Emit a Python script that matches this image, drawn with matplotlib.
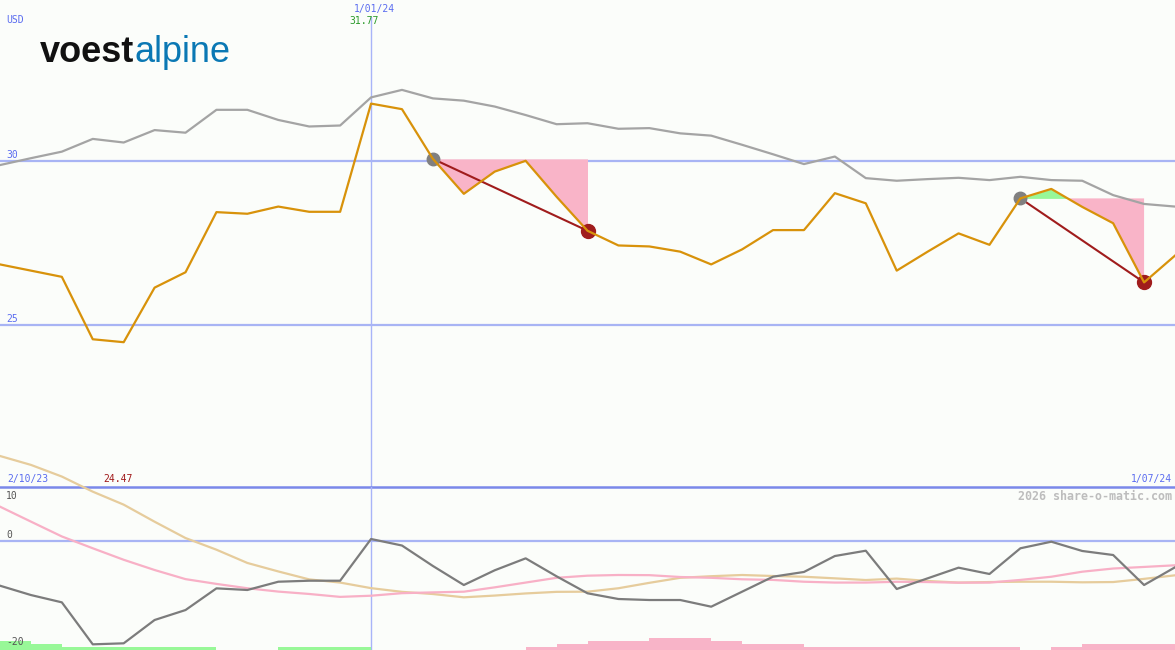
import matplotlib.pyplot as plt
import numpy as np

# weekly closes (USD), 2/10/23 .. 1/07/24
price = [26.85, 26.66, 26.47, 24.56, 24.47, 26.14, 26.61, 28.45, 28.40, 28.62,
         28.46, 28.46, 31.77, 31.60, 30.08, 29.01, 29.69, 30.02, 28.92, 27.88,
         27.43, 27.40, 27.24, 26.85, 27.31, 27.90, 27.90, 29.03, 28.72, 26.66,
         27.24, 27.80, 27.45, 28.87, 29.16, 28.61, 28.11, 26.30, 27.12]
avg = [29.89, 30.10, 30.30, 30.69, 30.58, 30.96, 30.88, 31.58, 31.58, 31.27,
       31.07, 31.10, 31.96, 32.19, 31.93, 31.86, 31.68, 31.42, 31.14, 31.17,
       31.00, 31.02, 30.86, 30.79, 30.51, 30.22, 29.92, 30.15, 29.49, 29.41,
       29.46, 29.50, 29.43, 29.53, 29.43, 29.41, 28.97, 28.70, 28.62]

# lower panel oscillators
osc = [-8.49, -10.25, -11.63, -19.55, -19.36, -14.96, -13.08, -8.99, -9.30, -7.74,
       -7.55, -7.55, 0.32, -0.91, -4.77, -8.36, -5.58, -3.33, -6.72, -9.92,
       -11.00, -11.19, -11.19, -12.45, -9.62, -6.79, -5.90, -2.89, -1.89, -9.11,
       -7.10, -5.09, -6.28, -1.43, -0.19, -1.94, -2.70, -8.36, -5.02]
osc_fast = [6.42, 3.60, 0.80, -1.43, -3.60, -5.53, -7.25, -8.15, -8.97, -9.60,
            -10.05, -10.60, -10.38, -9.90, -9.75, -9.62, -8.80, -7.90, -7.00, -6.60,
            -6.47, -6.50, -6.85, -7.00, -7.28, -7.40, -7.74, -7.90, -7.90, -7.75,
            -7.80, -7.92, -7.90, -7.40, -6.80, -5.85, -5.25, -4.95, -4.64]
osc_slow = [15.98, 14.30, 12.10, 9.25, 6.80, 3.58, 0.50, -1.70, -4.20, -5.80,
            -7.30, -7.90, -8.95, -9.65, -10.06, -10.68, -10.35, -9.95, -9.65, -9.62,
            -8.97, -7.95, -7.00, -6.70, -6.47, -6.66, -6.80, -7.10, -7.42, -7.15,
            -7.60, -7.90, -7.80, -7.74, -7.74, -7.85, -7.80, -7.20, -6.53]

# signal strength bars (one per week interval)
green_lvl = [3, 2, 1, 1, 1, 1, 1, 0, 0, 1, 1, 1] + [0] * 26
pink_lvl = [0] * 17 + [1, 2, 3, 3, 4, 4, 3, 2, 2, 1, 1, 1, 1, 1, 1, 1, 0, 1, 2, 2, 2]

# trade signals: (start index, end index)
signals = [(14, 19), (33, 37)]
marker_idx = 12

BG = '#fbfdfa'
BLUE = '#5a6cf0'
GRID = '#a8b4f4'
MONO = 'DejaVu Sans Mono'
FS = 7

x = np.arange(len(price))
price = np.array(price)

fig = plt.figure(figsize=(11.75, 6.5), dpi=100)
fig.patch.set_facecolor(BG)

ax = fig.add_axes([0, 163 / 650, 1, 487 / 650])
axl = fig.add_axes([0, 0, 1, 163 / 650])
axb = fig.add_axes([0, 0, 1, 163 / 650])
for a in (ax, axl, axb):
    a.set_facecolor('none')
    a.set_xlim(0, len(price) - 1)
    a.axis('off')

ax.set_ylim(20.04, 34.94)
axl.set_ylim(-20.62, 10.13)
axb.set_ylim(0, 163 / 3)

# bars at bottom
axb.bar(np.arange(len(green_lvl)), green_lvl, width=1, align='edge', color='#98f898', lw=0)
axb.bar(np.arange(len(pink_lvl)), pink_lvl, width=1, align='edge', color='#f8b4c8', lw=0)

# grid lines
for v in (30, 25):
    ax.axhline(v, color=GRID, lw=1.6, zorder=1)
    ax.annotate(str(v), xy=(0, v), xycoords=('axes fraction', 'data'), xytext=(6, 1),
                textcoords='offset pixels', va='bottom', ha='left', color=BLUE,
                family=MONO, fontsize=FS)
axl.axhline(0, color=GRID, lw=1.6, zorder=1)
axl.annotate('0', xy=(0, 0), xycoords=('axes fraction', 'data'), xytext=(6, 1),
             textcoords='offset pixels', va='bottom', ha='left', color='#555555',
             family=MONO, fontsize=FS)
fig.text(6 / 1175, 1 - 496 / 650, '10', va='center', ha='left',
         color='#555555', family=MONO, fontsize=FS)
fig.text(6 / 1175, 1 - 642 / 650, '-20', va='center', ha='left',
         color='#555555', family=MONO, fontsize=FS, zorder=10)
axl.axhline(10.13, color='#7a88ea', lw=1.8, clip_on=False, zorder=1)

ax.axvline(marker_idx, ymin=0, ymax=1 - 17 / 487, color='#a8b4f8', lw=1, zorder=1)
axl.axvline(marker_idx, color='#a8b4f8', lw=1, zorder=1)

# signal fills
for s, e in signals:
    ref = price[s]
    xs = x[s:e + 1]
    ys = price[s:e + 1]
    ax.fill_between(xs, ref, ys, where=ys <= ref, interpolate=True,
                    color='#f9b4c8', lw=0, zorder=2)
    ax.fill_between(xs, ref, ys, where=ys >= ref, interpolate=True,
                    color='#98f898', lw=0, zorder=2)
    ax.plot([s, e], [ref, price[e]], color='#a01c1c', lw=1.5, zorder=3)
    ax.plot(s, ref, 'o', color='#808080', ms=9, zorder=4)
    ax.plot(e, price[e], 'o', color='#a01c1c', ms=10, zorder=4)

ax.plot(x, avg, color='#a4a4a4', lw=1.6, zorder=3)
ax.plot(x, price, color='#d8920a', lw=1.6, zorder=5)

axl.plot(x, osc_slow, color='#e6cc9c', lw=1.6, clip_on=False, zorder=3)
axl.plot(x, osc_fast, color='#f8b0c6', lw=1.6, clip_on=False, zorder=3)
axl.plot(x, osc, color='#7c7c7c', lw=1.6, clip_on=False, zorder=4)

# texts
fig.text(6 / 1175, 1 - 20 / 650, 'USD', color=BLUE, family=MONO, fontsize=FS,
         va='center', ha='left')
ax.annotate('1/01/24', xy=(marker_idx, 1), xycoords=('data', 'axes fraction'),
            xytext=(3, -9), textcoords='offset pixels', ha='center', va='center',
            color=BLUE, family=MONO, fontsize=FS)
ax.annotate(f'{price.max():.2f}', xy=(marker_idx, 1), xycoords=('data', 'axes fraction'),
            xytext=(-7, -21), textcoords='offset pixels', ha='center', va='center',
            color='#2a9a2a', family=MONO, fontsize=FS)
axl.annotate('2/10/23', xy=(0, 1), xycoords='axes fraction', xytext=(7, 8),
             textcoords='offset pixels', ha='left', va='center', color=BLUE,
             family=MONO, fontsize=FS)
axl.annotate(f'{price.min():.2f}', xy=(0, 1), xycoords='axes fraction', xytext=(103, 8),
             textcoords='offset pixels', ha='left', va='center', color='#a01818',
             family=MONO, fontsize=FS)
axl.annotate('1/07/24', xy=(1, 1), xycoords='axes fraction', xytext=(-3, 8),
             textcoords='offset pixels', ha='right', va='center', color=BLUE,
             family=MONO, fontsize=FS)
axl.annotate('2026 share-o-matic.com', xy=(1, 1), xycoords='axes fraction',
             xytext=(-3, -9), textcoords='offset pixels', ha='right', va='center',
             color='#bdbdbd', family=MONO, fontsize=8.4, fontweight='bold')

# logo
t1 = fig.text(40 / 1175, 1 - 62 / 650, 'voest', color='#111111', fontsize=26,
              family='Liberation Sans', fontweight='bold', va='baseline', ha='left')
fig.canvas.draw()
bb = t1.get_window_extent()
fig.text(bb.x1 / 1175, 1 - 62 / 650, 'alpine', color='#0a78b4', fontsize=26,
         family='Liberation Sans', va='baseline', ha='left')

fig.savefig('out.png', dpi=100, facecolor=fig.get_facecolor())
